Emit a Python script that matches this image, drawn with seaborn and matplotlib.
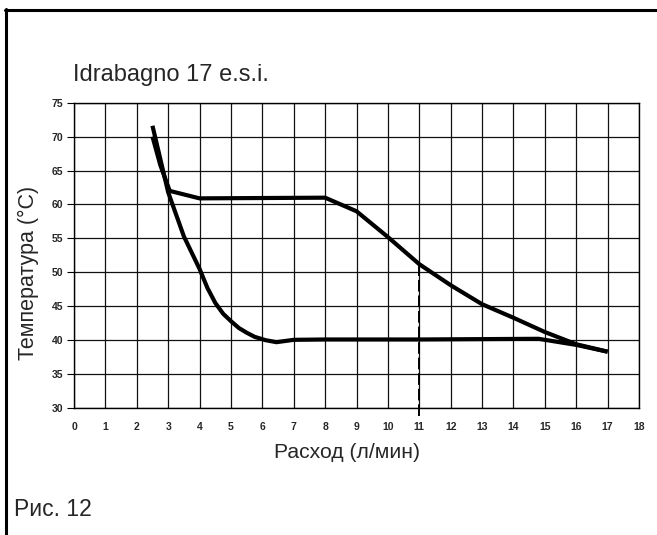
import matplotlib
matplotlib.use("Agg")
import matplotlib.pyplot as plt
from matplotlib.lines import Line2D
import seaborn as sns
import pandas as pd

# ---- data ----
upper_x = [2.5, 2.75, 3.05, 4.0, 8.0, 9.0, 10.0, 11.0, 12.0, 13.0, 14.0, 15.0, 16.0, 17.0]
upper_y = [70.0, 65.8, 62.0, 60.9, 61.0, 59.0, 55.2, 51.2, 48.1, 45.3, 43.3, 41.2, 39.4, 38.3]

lower_x = [2.5, 3.0, 3.5, 3.75, 4.0, 4.25, 4.5, 4.75, 5.0, 5.25, 5.5, 5.75, 6.1, 6.45,
           7.0, 8.0, 11.0, 14.8, 16.0, 17.0]
lower_y = [71.6, 61.8, 55.3, 52.9, 50.5, 47.7, 45.5, 43.9, 42.8, 41.8, 41.1, 40.5, 40.0, 39.7,
           40.05, 40.1, 40.1, 40.2, 39.3, 38.3]

ref_x = 11.0
ref_y = 51.2

x_ticks = list(range(0, 19))
y_ticks = list(range(30, 80, 5))

title_text = "Idrabagno 17 e.s.i."
x_label = "Расход (л/мин)"
y_label = "Температура (°C)"
fig_caption = "Рис. 12"

df_upper = pd.DataFrame({"x": upper_x, "y": upper_y})
df_lower = pd.DataFrame({"x": lower_x, "y": lower_y})

sns.set_style("white")
plt.rcParams["font.family"] = ["Liberation Sans", "DejaVu Sans"]

W, H = 657, 535
fig = plt.figure(figsize=(W / 100, H / 100), dpi=100)
ax = fig.add_axes([74 / W, 1 - 408 / H, 565 / W, 305.3 / H])

sns.lineplot(data=df_upper, x="x", y="y", sort=False, ax=ax, color="black",
             linewidth=3.0, solid_joinstyle="round", solid_capstyle="butt", zorder=5)
sns.lineplot(data=df_lower, x="x", y="y", sort=False, ax=ax, color="black",
             linewidth=3.0, solid_joinstyle="round", solid_capstyle="butt", zorder=5)

ax.vlines(ref_x, 28.8, ref_y, colors="black", linestyles=(0, (6, 2)),
          linewidth=1.4, clip_on=False, zorder=4)

ax.set_xlim(0, 18)
ax.set_ylim(30, 75)
ax.set_xticks(x_ticks)
ax.set_yticks(y_ticks)
ax.grid(True, color="#111111", linewidth=0.9)
ax.set_axisbelow(True)
for s in ax.spines.values():
    s.set_color("black")
    s.set_linewidth(1.0)
    s.set_visible(True)

ax.tick_params(axis="y", length=5, width=0.8, color="black", pad=3,
               labelsize=7.5, left=True)
ax.tick_params(axis="x", length=0, pad=10, labelsize=7.5)
for lab in ax.get_xticklabels() + ax.get_yticklabels():
    lab.set_fontweight("bold")

ax.set_xlabel("")
ax.set_ylabel(y_label, fontsize=15.5)
ax.yaxis.set_label_coords((39 - 74) / 565, (408 - 273) / 305.3)

fig.text(347 / W, 1 - 458 / H, x_label, fontsize=15.2, ha="center", va="baseline")
fig.text(72.7 / W, 1 - 80.7 / H, title_text, fontsize=17, ha="left", va="baseline")
fig.text(14 / W, 1 - 516 / H, fig_caption, fontsize=16.5, ha="left", va="baseline")

# page frame
fig.add_artist(Line2D([5 / W, 1.0], [1 - 10 / H, 1 - 10 / H],
                      transform=fig.transFigure, color="black", linewidth=2.2))
fig.add_artist(Line2D([6 / W, 6 / W], [1 - 9 / H, 0.0],
                      transform=fig.transFigure, color="black", linewidth=2.2))

fig.savefig("out.png", dpi=100)
